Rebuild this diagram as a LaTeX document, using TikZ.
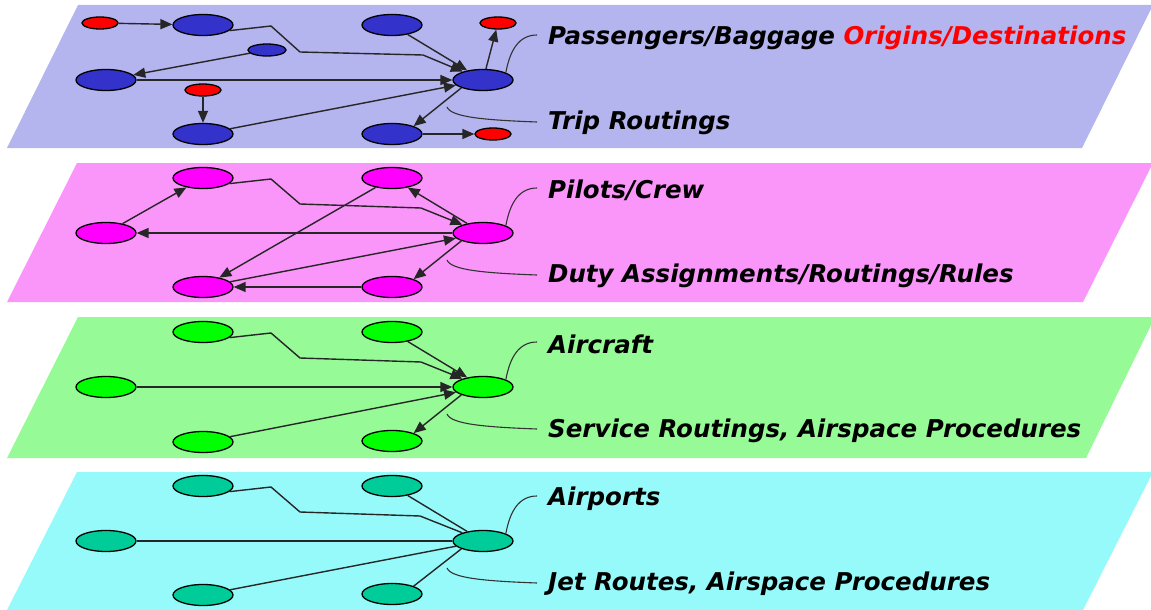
\documentclass[tikz,border=0pt]{standalone}
\usepackage{fontspec}
\setmainfont{DejaVu Sans}
\usetikzlibrary{arrows.meta,shapes.geometric,calc}
\definecolor{layA}{RGB}{180,180,238}
\definecolor{layB}{RGB}{250,150,250}
\definecolor{layC}{RGB}{150,250,150}
\definecolor{layD}{RGB}{150,250,250}
\definecolor{nA}{RGB}{51,51,204}
\definecolor{nB}{RGB}{255,0,255}
\definecolor{nC}{RGB}{0,255,0}
\definecolor{nD}{RGB}{0,204,153}
\begin{document}
\begin{tikzpicture}[x=1pt,y=-1pt,
  big/.style={ellipse,draw=black,line width=1.3pt,minimum width=60pt,minimum height=21pt,inner sep=0pt},
  redn/.style={ellipse,draw=black,line width=1.3pt,minimum width=36pt,minimum height=12pt,inner sep=0pt,fill=red},
  edge/.style={line width=1.4pt,draw=black!85},
  arr/.style={edge,-{Triangle[length=12pt,width=10pt]}},
  lead/.style={line width=1.1pt,draw=black!80},
  lab/.style={anchor=base west,inner sep=0pt,font=\fontsize{24.5}{28}\selectfont\bfseries\itshape}
]
\useasboundingbox (0,0) rectangle (1151,610);
% layers
\fill[layA] (78,5) -- (1153,5) -- (1082,148) -- (7,148) -- cycle;
\fill[layB] (77,163) -- (1153,163) -- (1083,302) -- (7,302) -- cycle;
\fill[layC] (78,317) -- (1155,317) -- (1086,458) -- (7,458) -- cycle;
\fill[layD] (77,472) -- (1153,472) -- (1083,610) -- (7,610) -- cycle;

% ---------- layer 1 ----------
\node[redn] (R1) at (100,23) {};
\node[big,fill=nA] (B1) at (203,25) {};
\node[big,fill=nA] (B2) at (392,25) {};
\node[redn] (R2) at (498,23) {};
\node[ellipse,draw=black,line width=1.3pt,fill=nA,minimum width=38pt,minimum height=12pt,inner sep=0pt] (Bs) at (267,50) {};
\node[big,fill=nA] (B3) at (106,80) {};
\node[big,fill=nA] (H) at (483,80) {};
\node[redn] (R3) at (203,90) {};
\node[big,fill=nA] (B4) at (203,134) {};
\node[big,fill=nA] (B5) at (392,134) {};
\node[redn] (R4) at (493,134) {};

\coordinate (a1) at (271,26);
\coordinate (a2) at (300,52);
\coordinate (a3) at (423,55);
\draw[arr] (R1) -- (B1);
\draw[arr] (B1.-12) -- (a1) -- (a2) -- (a3) -- (H);
\draw[arr] (B2) -- (H);
\draw[arr] (H) -- (R2);
\draw[arr] (Bs) -- (B3);
\draw[arr] (B3) -- (H);
\draw[arr] (R3) -- (B4);
\draw[arr] (B4) -- (H);
\draw[arr] (H.south west) -- (B5.north east);
\draw[arr] (B5) -- (R4);

% ---------- layer 2 ----------
\node[big,fill=nB] (P1) at (203,178) {};
\node[big,fill=nB] (P2) at (392,178) {};
\node[big,fill=nB] (P3) at (106,233) {};
\node[big,fill=nB] (PH) at (483,233) {};
\node[big,fill=nB] (P4) at (203,287) {};
\node[big,fill=nB] (P5) at (392,287) {};

\coordinate (b1) at (271,179);
\coordinate (b2) at (300,204);
\coordinate (b3) at (421,208);
\draw[arr] (P3) -- (P1);
\draw[arr] (P1.-12) -- (b1) -- (b2) -- (b3) -- (PH);
\draw[arr] (PH) -- (P2);
\draw[arr] (PH) -- (P3);
\draw[arr] (P2) -- (P4);
\draw[arr] (P4) -- (PH);
\draw[arr] (PH.south west) -- (P5.north east);
\draw[arr] (P5) -- (P4);

% ---------- layer 3 ----------
\node[big,fill=nC] (G1) at (203,332) {};
\node[big,fill=nC] (G2) at (392,332) {};
\node[big,fill=nC] (G3) at (106,387) {};
\node[big,fill=nC] (GH) at (483,387) {};
\node[big,fill=nC] (G4) at (203,442) {};
\node[big,fill=nC] (G5) at (392,441) {};

\coordinate (c1) at (271,333);
\coordinate (c2) at (300,358);
\coordinate (c3) at (421,362);
\draw[arr] (G1.-12) -- (c1) -- (c2) -- (c3) -- (GH);
\draw[arr] (G2) -- (GH);
\draw[arr] (G3) -- (GH);
\draw[arr] (G4) -- (GH);
\draw[arr] (GH.south west) -- (G5.north east);

% ---------- layer 4 ----------
\node[big,fill=nD] (T1) at (203,486) {};
\node[big,fill=nD] (T2) at (392,486) {};
\node[big,fill=nD] (T3) at (106,541) {};
\node[big,fill=nD] (TH) at (483,541) {};
\node[big,fill=nD] (T4) at (203,595) {};
\node[big,fill=nD] (T5) at (392,594) {};

\coordinate (d1) at (271,487);
\coordinate (d2) at (300,512);
\coordinate (d3) at (420,516);
\draw[edge] (T1.-12) -- (d1) -- (d2) -- (d3) -- (TH);
\draw[edge] (T2) -- (TH);
\draw[edge] (T3) -- (TH);
\draw[edge] (T4) -- (TH);
\draw[edge] (TH.south west) -- (T5.north east);

% ---------- leader curves ----------
\foreach \h in {H,PH,GH,TH}{
  \coordinate (\h-u) at ($(\h)+(54,-45)$);
  \coordinate (\h-s) at ($(\h)+(-36,27)$);
  \coordinate (\h-d) at ($(\h)+(54,42)$);
  \draw[lead] (\h.18) .. controls ($(\h)+(27,-30)$) and ($(\h)+(36,-45)$) .. (\h-u);
  \draw[lead] (\h-s) .. controls ($(\h)+(-32,37)$) and ($(\h)+(0,40)$) .. (\h-d);
}

% ---------- labels ----------
\node[lab] (t1) at (548,45) {Passengers/Baggage \textcolor{red}{Origins/Destinations}};
\node[lab] (t2) at (548,129) {Trip Routings};
\node[lab] (t3) at (548,198) {Pilots/Crew};
\node[lab] (t4) at (548,282) {Duty Assignments/Routings/Rules};
\node[lab] (t5) at (548,353) {Aircraft};
\node[lab] (t6) at (548,437) {Service Routings, Airspace Procedures};
\node[lab] (t7) at (548,505) {Airports};
\node[lab] (t8) at (548,590) {Jet Routes, Airspace Procedures};
\end{tikzpicture}
\end{document}
